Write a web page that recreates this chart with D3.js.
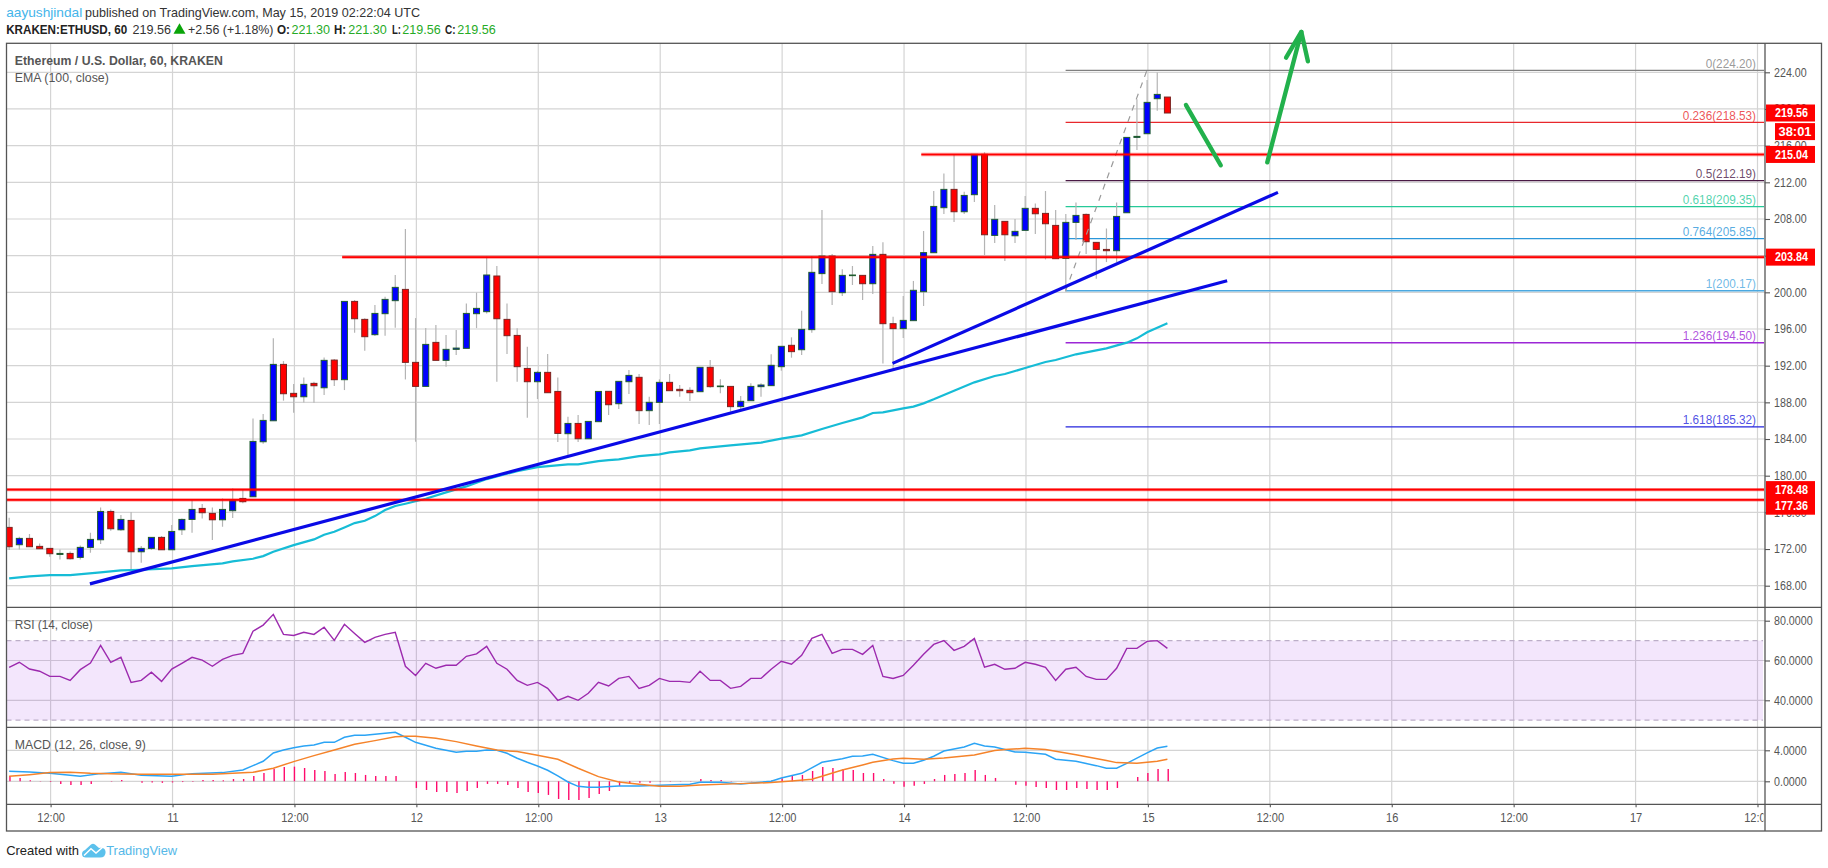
<!DOCTYPE html>
<html><head><meta charset="utf-8">
<style>html,body{margin:0;padding:0;background:#fff;overflow:hidden}svg{display:block}text{font-family:"Liberation Sans",Arial,sans-serif}</style>
<script src="https://cdn.jsdelivr.net/npm/d3@7/dist/d3.min.js"></script>
</head><body><svg id="c" width="1828" height="868"></svg>
<script>
// Hours are counted from May 10 12:00 UTC; first candle is hour -4.
const firstHour = -4;
const opens = [174.36,172.47,173.16,172.29,172.07,171.41,171.52,171.09,172.18,173.01,
176.10,174.10,175.12,171.70,172.07,173.27,171.92,174.10,175.23,176.43,
175.89,175.19,176.18,177.52,177.70,183.70,185.99,192.14,188.98,188.61,
190.07,189.59,192.61,190.47,199.01,197.05,195.38,197.67,199.09,200.32,
192.36,189.74,194.54,192.58,193.78,193.89,197.67,197.89,201.78,197.05,
195.30,191.70,190.25,191.27,189.19,184.58,185.70,184.03,185.89,189.20,
187.85,190.25,190.73,187.09,188.00,190.18,189.42,189.31,189.16,191.82,
189.71,189.74,187.53,188.18,189.71,189.82,191.89,194.22,193.74,195.93,
202.04,203.96,199.96,201.82,201.85,200.94,204.14,196.58,196.04,196.91,
200.07,204.32,209.23,211.23,208.79,210.65,215.05,206.21,207.74,206.17,
206.76,209.16,208.61,207.30,203.70,207.63,208.50,205.45,204.68,204.54,
208.68,216.90,217.30,221.12,221.30];
const closes = [172.25,173.16,172.25,172.03,171.49,171.52,170.94,172.18,173.05,176.10,
174.21,175.23,171.70,172.07,173.27,171.92,173.92,175.23,176.32,175.96,
175.19,176.32,177.27,177.16,183.74,186.03,192.14,188.94,188.61,189.96,
189.81,192.58,190.47,199.01,197.12,195.16,197.70,199.23,200.54,192.36,
189.74,194.32,192.58,193.78,193.92,197.70,198.25,201.89,197.12,195.27,
191.89,190.25,191.27,189.05,184.61,185.70,184.03,185.92,189.19,187.74,
190.29,190.94,187.09,188.00,190.18,189.27,189.27,189.05,191.82,189.71,
189.78,187.53,188.11,189.74,189.89,192.04,194.11,193.53,195.96,202.18,
203.96,200.07,201.85,201.89,200.94,204.14,196.58,196.04,196.94,200.22,
204.33,209.37,211.23,208.79,210.57,215.05,206.28,207.96,206.28,206.65,
209.16,208.57,207.48,203.67,207.63,208.39,205.52,204.68,204.54,208.28,
216.90,217.01,220.72,221.59,219.56];
const highs = [175.41,173.34,173.63,172.61,172.07,171.96,171.74,172.39,173.78,176.54,
176.32,175.70,176.03,172.32,173.27,173.41,174.61,175.34,177.34,176.90,
176.54,177.52,178.61,178.43,186.25,186.72,194.98,192.50,189.99,190.72,
190.25,192.90,192.72,199.01,199.16,197.16,198.61,199.52,201.89,206.90,
197.19,196.10,196.43,195.34,195.89,198.79,199.96,203.89,202.87,198.79,
196.07,194.07,191.45,193.27,190.72,186.43,186.61,185.92,189.19,189.20,
190.29,191.53,191.09,188.62,190.51,191.09,189.89,189.64,191.82,192.62,
190.51,189.74,188.69,190.07,190.07,193.24,194.11,195.09,198.00,203.96,
208.98,204.18,202.51,202.87,201.85,205.05,205.45,197.34,199.60,201.24,
206.69,211.05,212.97,214.97,210.97,215.05,215.27,209.52,207.74,207.99,
210.50,209.70,211.05,208.97,208.54,209.81,208.61,205.45,206.97,209.81,
216.90,221.05,223.16,223.99,221.30];
const lows = [171.89,171.96,172.25,172.03,171.16,170.87,170.87,170.87,171.59,172.54,
173.99,173.99,169.70,170.50,171.89,171.92,171.92,173.52,173.78,175.34,
172.98,174.43,175.38,176.98,177.70,183.49,185.99,188.18,186.87,187.99,
187.96,188.79,189.78,189.34,195.59,193.63,195.23,195.27,196.14,190.50,
183.70,189.74,192.58,191.89,193.16,193.89,196.10,197.70,190.25,193.27,
190.25,186.32,188.36,189.05,183.67,182.25,183.67,184.03,185.89,186.62,
187.27,188.91,185.64,185.53,185.64,189.27,188.62,188.14,189.16,189.60,
188.98,186.98,187.24,188.18,188.62,189.82,191.45,192.87,193.16,195.60,
200.91,198.62,199.60,200.80,199.16,199.82,192.25,191.71,195.02,196.91,
198.51,204.32,208.54,207.67,208.54,209.85,204.07,205.37,203.41,205.37,
206.76,206.36,203.59,203.67,200.07,205.70,204.17,201.48,203.30,203.30,
208.68,215.52,217.30,219.81,219.56];

const emaHours = [-4,-2,0,2,5,7,9,12,14,17,18,20,21,22,24,26,27,28,29,30,31,32,33,34,35,37,39,41,43,46,48,51,52,54,55,56,58,60,61,63,64,67,70,72,74,76,78,80,81,82,84,85,86,87,89,91,93,94,96,98,99,101,104,106,107,108,110];
const emaValues = [168.79,169.01,169.16,169.16,169.45,169.67,169.74,169.89,170.14,170.43,170.65,170.94,171.23,171.70,172.43,173.05,173.56,173.89,174.36,174.83,175.09,175.59,176.25,176.69,176.94,177.49,178.18,178.83,179.63,180.50,180.94,181.23,181.23,181.59,181.70,181.78,182.14,182.33,182.54,182.76,182.98,183.31,183.60,184.04,184.40,185.09,185.74,186.36,186.84,186.91,187.34,187.53,187.89,188.33,189.27,190.18,190.87,191.09,191.74,192.40,192.62,193.24,193.89,194.51,194.98,195.64,196.62];

const rsiValues = [56.6,59.1,55.7,54.6,52.0,52.0,50.0,55.4,58.7,67.6,
59.1,61.6,49.0,50.0,54.1,49.5,55.7,58.6,61.6,60.2,
57.1,60.6,62.6,63.6,74.7,77.8,83.2,73.1,72.6,74.2,
73.1,76.7,70.1,78.2,73.6,69.1,71.6,73.1,74.2,57.1,
52.5,58.6,56.1,57.6,57.6,62.1,63.3,67.1,58.6,55.6,
50.0,47.5,49.0,46.0,40.0,42.0,40.0,43.5,49.0,47.2,
51.0,52.0,46.0,47.5,51.0,49.5,49.5,49.0,54.6,50.0,
50.0,46.0,47.0,51.0,51.0,55.6,59.6,58.1,62.6,71.1,
73.1,63.6,65.6,65.6,63.1,67.6,52.0,51.0,52.5,57.6,
63.1,68.1,70.0,65.1,67.1,71.1,56.6,58.1,55.6,56.1,
59.1,58.1,56.6,50.0,55.6,56.6,52.0,50.5,50.5,56.1,
66.1,66.1,69.6,70.0,66.1];

const histValues = [0.69,0.43,0.13,0.04,-0.09,-0.34,-0.47,-0.47,-0.34,0,
-0.05,0.17,0,-0.2,-0.15,-0.2,-0.15,-0.1,-0.05,0.17,
0.17,0.13,0.3,0.3,0.69,1.07,1.63,1.85,1.89,1.72,
1.46,1.33,0.95,1.2,1.07,0.82,0.69,0.69,0.69,0,
-0.86,-1.12,-1.38,-1.38,-1.5,-1.25,-0.86,-0.34,-0.34,-0.47,
-0.86,-1.38,-1.5,-1.76,-2.28,-2.41,-2.41,-2.15,-1.63,-1.25,
-0.6,-0.3,-0.2,-0.2,-0.05,-0.05,0.04,0.04,0.3,0.17,
0.17,0.04,0.02,0.02,0.02,0.09,0.39,0.69,0.82,1.33,
1.85,1.72,1.59,1.46,1.07,1.07,0.3,-0.3,-0.69,-0.56,
-0.34,0.3,0.82,0.95,1.07,1.46,0.82,0.43,0,-0.43,
-0.56,-0.73,-0.86,-1.12,-1.12,-0.86,-0.99,-1.12,-1.12,-0.86,
0,0.56,1.07,1.59,1.59];
const macdHours = [-4,-2,0,3,5,7,9,12,14,17,19,20,21,22,23,24,25,26,27,28,29,30,31,32,33,34,35,36,37,38,39,40,41,42,43,44,45,46,47,48,49,50,51,52,53,54,56,58,60,63,64,66,68,71,72,74,76,78,79,80,81,83,84,85,86,87,88,90,91,92,93,95,96,98,99,101,103,104,105,106,108,109,110];
const macdValues = [1.29,1.20,1.03,0.65,0.99,1.16,0.77,0.65,0.99,1.12,1.46,2.02,2.58,3.66,4.04,4.34,4.56,4.69,5.03,5.03,5.68,5.94,5.94,6.06,6.19,6.32,5.68,5.03,4.65,4.26,4.00,3.74,3.87,3.87,4.04,4.00,3.61,2.97,2.45,1.98,1.42,0.69,-0.09,-0.65,-0.77,-0.77,-0.60,-0.60,-0.52,-0.39,-0.13,-0.13,-0.34,0,0.43,1.03,2.45,2.92,3.23,3.27,3.48,2.67,2.32,2.32,2.71,3.23,3.91,4.43,4.90,4.56,4.43,3.78,3.74,3.48,2.84,2.58,2.02,1.68,1.68,2.32,3.66,4.30,4.52];
const signalHours = [-4,-2,0,2,4,7,9,12,16,18,20,21,22,24,26,28,30,32,34,35,36,38,40,42,44,46,48,50,52,54,56,58,60,62,64,68,71,73,75,76,78,80,81,83,84,86,88,91,93,94,96,98,101,104,105,107,109,110];
const signalValues = [0.65,0.86,1.12,1.16,1.03,0.95,0.90,0.90,0.90,1.03,1.16,1.42,1.68,2.54,3.31,4.04,4.77,5.25,5.76,5.81,5.81,5.55,5.12,4.56,4.04,3.83,3.35,2.84,1.68,0.60,-0.09,-0.39,-0.65,-0.65,-0.47,-0.30,-0.17,0.04,0.26,0.65,1.46,2.11,2.45,2.88,2.97,2.84,3.01,3.40,3.96,4.09,4.26,4.09,3.44,2.67,2.41,2.32,2.58,2.84];

const priceTicks = [224,220,216,212,208,204,200,196,192,188,184,180,176,172,168];
const rsiTicks = [80,60,40];
const macdTicks = [4,0];
const timeHours = [0,12,24,36,48,60,72,84,96,108,120,132,144,156,168];
const timeLabels = ["12:00","11","12:00","12","12:00","13","12:00","14","12:00","15","12:00","16","12:00","17","12:00"];

const fibLevels = ["0","0.236","0.5","0.618","0.764","1","1.236","1.618"];
const fibPrices = [224.20,218.53,212.19,209.35,205.85,200.17,194.50,185.32];
const fibColors = ["#808080","#e8282c","#4a1a45","#26c998","#2b96d9","#4aa8e0","#9c27d6","#2424dd"];
const fibStartHour = 100;

const supportPrices = [203.84,215.04,178.48,177.36];
const supportStartHours = [28.7,85.7,-4.3,-4.3];
const trendHours = [[3.87,115.8],[82.87,120.8]];
const trendPrices = [[168.2,201.27],[192.25,210.9]];
const fibDashHours = [99.9,107.9];
const fibDashPrices = [200.17,224.2];
const arrowDownHours = [111.75,115.17];
const arrowDownPrices = [220.43,213.86];
const arrowUpHours = [119.75,123.1];
const arrowUpPrices = [214.18,228.4];
const arrowBarbHours = [121.6,123.1,123.75];
const arrowBarbPrices = [225.6,228.4,225.2];

// Layout
const L=6.5,R=1821.5,AX=1765,T=43.3,B1=607.3,B2=727.3,B3=804.3,B4=831;
const x=d3.scaleLinear().domain([0,168]).range([50.6,1757.5]);
const cx=h=>x(h)-0.8;
const y=d3.scaleLinear().domain([224,168]).range([72.3,585.7]);
const yR=d3.scaleLinear().domain([80,40]).range([620.7,700.3]);
const yM=d3.scaleLinear().domain([4,0]).range([750.3,781.3]);
const hours=opens.map((_,i)=>firstHour+i);
const svg=d3.select('#c');
const defs=svg.append('defs');
defs.append('clipPath').attr('id','plot').append('rect').attr('x',L).attr('y',T).attr('width',AX-L).attr('height',B3-T);
defs.append('clipPath').attr('id','tl').append('rect').attr('x',L).attr('y',0).attr('width',AX-L-1.5).attr('height',B4-B3);

const GRID='#d4d4d4',FRAME='#555',AXT='#555';
function tx(s,px,py,o={}){
  const t=svg.append('text').attr('x',px).attr('y',py).attr('dy','.35em').text(s)
    .attr('font-size',o.size||12).attr('font-weight',o.weight||'normal').attr('fill',o.fill||AXT)
    .attr('text-anchor',o.anchor||'start');
  if(o.w){t.attr('textLength',o.w).attr('lengthAdjust','spacingAndGlyphs');}
  return t;
}
function condense(sel,f){sel.each(function(){const w=this.getComputedTextLength();this.setAttribute('textLength',w*f);this.setAttribute('lengthAdjust','spacingAndGlyphs');});}

// Grid
const grid=svg.append('g').attr('stroke',GRID).attr('stroke-width',1.2).attr('fill','none');
grid.selectAll('.v').data(timeHours).join('line').attr('x1',d=>x(d)).attr('x2',d=>x(d)).attr('y1',T).attr('y2',B3);
grid.selectAll('.p').data(priceTicks).join('line').attr('x1',L).attr('x2',AX).attr('y1',d=>y(d)).attr('y2',d=>y(d));
grid.selectAll('.r').data(rsiTicks).join('line').attr('x1',L).attr('x2',AX).attr('y1',d=>yR(d)).attr('y2',d=>yR(d));
grid.selectAll('.m').data(macdTicks).join('line').attr('x1',L).attr('x2',AX).attr('y1',d=>yM(d)).attr('y2',d=>yM(d));

// RSI band
svg.append('rect').attr('x',L).attr('width',1763-L).attr('y',yR(70)).attr('height',yR(30)-yR(70)).attr('fill','rgba(140,20,230,0.105)');
[70,30].forEach(v=>svg.append('line').attr('x1',L).attr('x2',1763).attr('y1',yR(v)).attr('y2',yR(v))
  .attr('stroke','#bcaec8').attr('stroke-width',1.2).attr('stroke-dasharray','5 4'));

// Fib lines
const main=svg.append('g').attr('clip-path','url(#plot)');
main.selectAll('.fib').data(fibPrices).join('line').attr('x1',x(fibStartHour)-1).attr('x2',1764)
  .attr('y1',d=>y(d)).attr('y2',d=>y(d)).attr('stroke',(d,i)=>fibColors[i]).attr('stroke-width',1.3);

// Candles
const up=i=>closes[i]>=opens[i];
main.selectAll('.w').data(hours).join('line').attr('x1',d=>cx(d)).attr('x2',d=>cx(d))
  .attr('y1',(d,i)=>y(highs[i])).attr('y2',(d,i)=>y(lows[i])).attr('stroke','#b4b4b4').attr('stroke-width',1.2);
main.selectAll('.b').data(hours).join('rect').attr('x',d=>cx(d)-3).attr('width',6)
  .attr('y',(d,i)=>y(Math.max(opens[i],closes[i])))
  .attr('height',(d,i)=>Math.max(0.6,Math.abs(y(opens[i])-y(closes[i]))))
  .attr('fill',(d,i)=>up(i)?'#0000ff':'#ff0000')
  .attr('stroke',(d,i)=>up(i)?'#1f5c2e':'#7a2420').attr('stroke-width',1);

// EMA
main.append('path').attr('d',d3.line().x((d,i)=>cx(emaHours[i])).y(d=>y(d))(emaValues))
  .attr('fill','none').attr('stroke','#16bcd6').attr('stroke-width',2.2);

// Fib dashed diagonal
main.append('path').attr('d',d3.line().x(d=>x(d)).y((d,i)=>y(fibDashPrices[i]))(fibDashHours))
  .attr('fill','none').attr('stroke','#9a9a9a').attr('stroke-width',1.2).attr('stroke-dasharray','6 6');

// Support lines
supportPrices.forEach((p,i)=>{
  const x0=Math.max(L,x(supportStartHours[i]));
  main.append('line').attr('x1',x0).attr('x2',AX-1).attr('y1',y(p)).attr('y2',y(p)).attr('stroke','#ff0000').attr('stroke-opacity',.45).attr('stroke-width',3.4);
  main.append('line').attr('x1',x0).attr('x2',AX-1).attr('y1',y(p)).attr('y2',y(p)).attr('stroke','#ff0000').attr('stroke-width',1.6);
});

// Trend lines
trendHours.forEach((hs,i)=>{
  svg.append('line').attr('x1',x(hs[0])).attr('x2',x(hs[1])).attr('y1',y(trendPrices[i][0])).attr('y2',y(trendPrices[i][1]))
    .attr('stroke','#0a0ae6').attr('stroke-width',3.2);
});

// RSI line
svg.append('path').attr('d',d3.line().x((d,i)=>cx(hours[i])).y(d=>yR(d))(rsiValues))
  .attr('fill','none').attr('stroke','#9c2aae').attr('stroke-width',1.4);

// MACD
svg.selectAll('.h').data(histValues).join('line').attr('x1',(d,i)=>x(hours[i])).attr('x2',(d,i)=>x(hours[i]))
  .attr('y1',yM(0)).attr('y2',d=>yM(d)).attr('stroke','#ff0a6c').attr('stroke-width',1.4);
svg.append('path').attr('d',d3.line().x((d,i)=>cx(macdHours[i])).y(d=>yM(d))(macdValues))
  .attr('fill','none').attr('stroke','#2ba4f5').attr('stroke-width',1.5);
svg.append('path').attr('d',d3.line().x((d,i)=>cx(signalHours[i])).y(d=>yM(d))(signalValues))
  .attr('fill','none').attr('stroke','#f5832a').attr('stroke-width',1.5);

// Frame
const fr=svg.append('g').attr('stroke',FRAME).attr('stroke-width',1.3).attr('fill','none');
fr.append('rect').attr('x',L).attr('y',T).attr('width',R-L).attr('height',B4-T);
[B1,B2,B3].forEach(v=>fr.append('line').attr('x1',L).attr('x2',R).attr('y1',v).attr('y2',v));
fr.append('line').attr('x1',AX).attr('x2',AX).attr('y1',T).attr('y2',B4);

// Axes
function styleAxis(g,f){
  g.select('.domain').remove();
  g.selectAll('.tick line').attr('stroke',FRAME).attr('stroke-width',1.1);
  const t=g.selectAll('.tick text').attr('font-size',12).attr('fill',AXT).attr('font-family','"Liberation Sans",Arial,sans-serif');
  condense(t,f);
}
const axP=svg.append('g').attr('transform',`translate(${AX},0)`)
  .call(d3.axisRight(y).tickValues(priceTicks).tickSize(5).tickPadding(4).tickFormat(d3.format('.2f')));
styleAxis(axP,.89);
const axR=svg.append('g').attr('transform',`translate(${AX},0)`)
  .call(d3.axisRight(yR).tickValues(rsiTicks).tickSize(5).tickPadding(4).tickFormat(d3.format('.4f')));
styleAxis(axR,.89);
const axM=svg.append('g').attr('transform',`translate(${AX},0)`)
  .call(d3.axisRight(yM).tickValues(macdTicks).tickSize(5).tickPadding(4).tickFormat(d3.format('.4f')));
styleAxis(axM,.89);
const axT=svg.append('g').attr('transform',`translate(0,${B3})`).attr('clip-path','url(#tl)')
  .call(d3.axisBottom(x).tickValues(timeHours).tickSize(3).tickPadding(6).tickFormat((d,i)=>timeLabels[i]));
styleAxis(axT,.92);

// Fib labels
fibPrices.forEach((p,i)=>{
  const t=tx(`${fibLevels[i]}(${p.toFixed(2)})`,1756,y(p)-7,{anchor:'end',fill:fibColors[i]}).attr('fill-opacity',.8);
  condense(t,.98);
});

// Price tags
function tag(label,yc,x0,wid,sub){
  svg.append('rect').attr('x',x0).attr('y',yc-8.5).attr('width',wid).attr('height',17).attr('fill','#ff0000');
  tx(label,x0+wid/2+(sub||0),yc,{anchor:'middle',fill:'#fff',weight:'bold',w:33});
}
tag('219.56',y(219.56),1766,49,1);
tag('38:01',131.6,1775,40,0);
tag('215.04',y(215.04),1766,49,1);
tag('203.84',y(203.84),1766,49,1);
tag('178.48',489.6,1766,49,1);
tag('177.36',506.2,1766,49,1);

// Hand-drawn arrows
const pen=(hs,ps)=>svg.append('path').attr('d',d3.line().x(d=>x(d)).y((d,i)=>y(ps[i]))(hs))
  .attr('fill','none').attr('stroke','#22b14c').attr('stroke-width',4.4).attr('stroke-linecap','round').attr('stroke-linejoin','round');
pen(arrowDownHours,arrowDownPrices);
pen(arrowUpHours,arrowUpPrices);
pen(arrowBarbHours,arrowBarbPrices);

// Header
const HS=13;
tx('aayushjindal',6.2,12.7,{size:HS,fill:'#45b5ea',w:76});
tx('published on TradingView.com, May 15, 2019 02:22:04 UTC',85,12.7,{size:HS,fill:'#333',w:335});
tx('KRAKEN:ETHUSD, 60',6.2,29.8,{size:HS,weight:'bold',fill:'#222',w:121});
tx('219.56',132.5,29.8,{size:HS,fill:'#333',w:38.5});
svg.append('path').attr('d',d3.symbol().type(d3.symbolTriangle).size(62)()).attr('transform','translate(179.5,30.2)').attr('fill','#0aa50a');
tx('+2.56 (+1.18%)',188,29.8,{size:HS,fill:'#333',w:85.5});
tx('O:',277,29.8,{size:HS,weight:'bold',fill:'#222',w:13});
tx('221.30',291.4,29.8,{size:HS,fill:'#26ab26',w:38.5});
tx('H:',334,29.8,{size:HS,weight:'bold',fill:'#222',w:12});
tx('221.30',348.2,29.8,{size:HS,fill:'#26ab26',w:38.5});
tx('L:',392,29.8,{size:HS,weight:'bold',fill:'#222',w:9});
tx('219.56',402.3,29.8,{size:HS,fill:'#26ab26',w:38.5});
tx('C:',445,29.8,{size:HS,weight:'bold',fill:'#222',w:10.5});
tx('219.56',457.2,29.8,{size:HS,fill:'#26ab26',w:38.5});

// Pane titles
tx('Ethereum / U.S. Dollar, 60, KRAKEN',14.8,60.6,{size:HS,weight:'bold',fill:'#555',w:208});
tx('EMA (100, close)',14.8,77.7,{size:HS,fill:'#555',w:94});
tx('RSI (14, close)',14.8,624.8,{size:HS,fill:'#555',w:78});
tx('MACD (12, 26, close, 9)',14.8,744.8,{size:HS,fill:'#555',w:131});

// Footer
tx('Created with',6.2,850.4,{size:13.5,fill:'#222',w:72.8});
svg.append('path').attr('d','M82,854 Q82,851 85,850 L91,844.5 Q93,842.8 95,844.5 L99,848 Q105,847 105.6,852 Q105.6,857.6 100,857.6 L86,857.6 Q82,857.6 82,854 Z').attr('fill','#5cc1ec');
svg.append('path').attr('d','M84,855.5 L91,848.8 L96,853 L103.5,846.5').attr('fill','none').attr('stroke','#fff').attr('stroke-width',1.5);
tx('TradingView',106.2,850.4,{size:13.5,fill:'#55b8e8',w:71});
</script></body></html>
